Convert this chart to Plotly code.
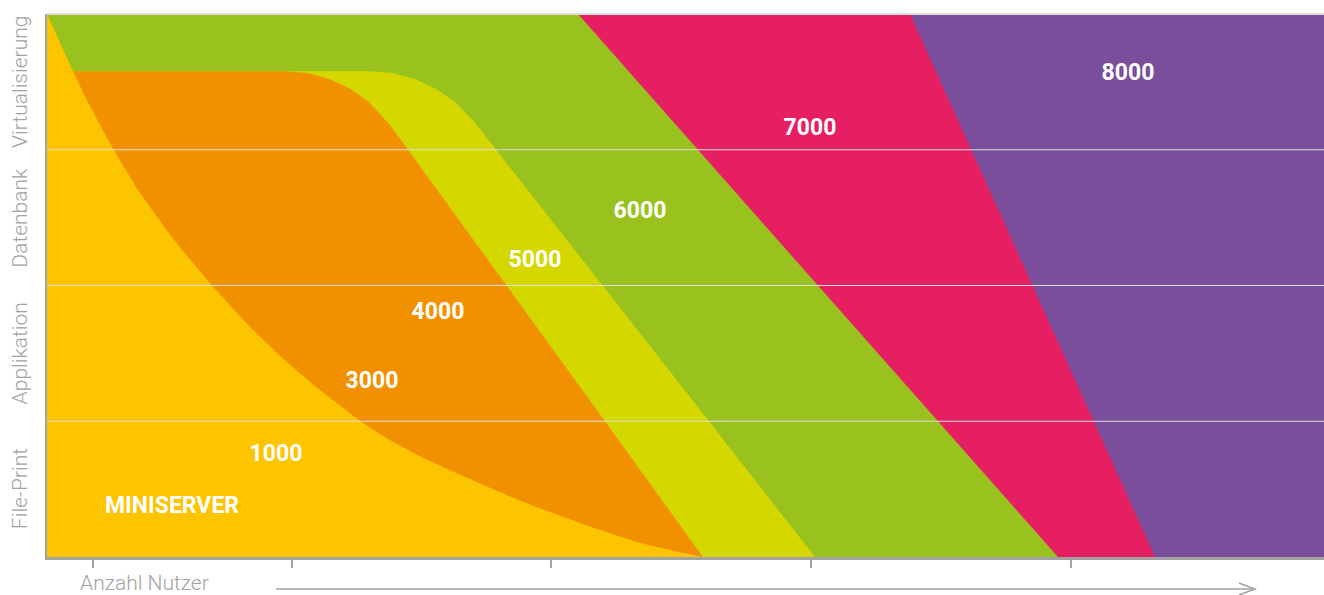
import plotly.graph_objects as go

# ---- data (x: arbitrary user scale, y: 4 workload bands) ----
band_labels = ["File-Print", "Applikation", "Datenbank", "Virtualisierung"]
band_centers = [0.5, 1.5, 2.5, 3.5]
grid_levels = [1, 2, 3]
tick_positions = [46, 245, 504, 764, 1024]

# upper boundary of each coloured zone (filled down to the x axis)
purple_x = [0, 1277]
purple_y = [4, 4]
pink_x = [0, 863, 1108]
pink_y = [4, 4, 0]
green_x = [0, 531, 1011]
green_y = [4, 4, 0]
yg_x = [0, 200, 323, 346, 368.3, 389.3, 408.2, 427.4, 448, 555.4, 662, 768]
yg_y = [3.579, 3.579, 3.579, 3.565, 3.520, 3.448, 3.351, 3.204, 3.011, 2.000, 1.000, 0]
orange_x = [0, 150, 238, 260.5, 282.3, 302.8, 321.3, 342.8, 360, 459.4, 558, 656]
orange_y = [3.579, 3.579, 3.579, 3.565, 3.522, 3.451, 3.356, 3.185, 3.011, 2.000, 1.000, 0]
yellow_x = [0, 26, 43, 66, 93, 126, 165, 203, 236, 270, 313, 336, 370, 420, 473, 533, 593, 655]
yellow_y = [4.0, 3.579, 3.323, 3.011, 2.683, 2.347, 2.000, 1.697, 1.463, 1.248, 1.004,
            0.892, 0.754, 0.583, 0.415, 0.251, 0.105, 0]

label_text = ["8000", "7000", "6000", "5000", "4000", "3000", "1000", "MINISERVER"]
label_x = [1081, 763, 593, 488, 391, 325, 229, 125]
label_y = [3.557, 3.151, 2.539, 2.177, 1.793, 1.284, 0.753, 0.369]

colors = {
    "purple": "#7B4E9C",
    "pink": "#E61E62",
    "green": "#9AC21E",
    "yg": "#D5D700",
    "orange": "#F29100",
    "yellow": "#FDC400",
}

GREY = "#a2a2a2"

fig = go.Figure()
for name, xs, ys, shape in [
    ("purple", purple_x, purple_y, "linear"),
    ("pink", pink_x, pink_y, "linear"),
    ("green", green_x, green_y, "linear"),
    ("yg", yg_x, yg_y, "linear"),
    ("orange", orange_x, orange_y, "linear"),
    ("yellow", yellow_x, yellow_y, "spline"),
]:
    fig.add_trace(go.Scatter(
        x=xs, y=ys, mode="lines", fill="tozeroy",
        fillcolor=colors[name],
        line=dict(width=0, color=colors[name], shape=shape, smoothing=0.6),
        hoverinfo="skip", showlegend=False,
    ))

fig.add_trace(go.Scatter(
    x=label_x, y=label_y, mode="text", text=label_text,
    textfont=dict(family="Roboto", size=23, color="white", weight="bold"),
    hoverinfo="skip", showlegend=False,
))

shapes = []
for g in grid_levels:
    shapes.append(dict(type="line", xref="paper", yref="y", x0=0, x1=1, y0=g, y1=g,
                       line=dict(color="#dddddd", width=1), layer="above"))
# top border
shapes.append(dict(type="line", xref="paper", yref="paper", x0=0, x1=1, y0=1, y1=1,
                   line=dict(color="#dddddd", width=2), layer="above"))
# arrow below axis
shapes.append(dict(type="line", xref="paper", yref="paper", x0=0.1793, x1=0.946,
                   y0=-0.059, y1=-0.059, line=dict(color=GREY, width=1.5)))
shapes.append(dict(type="path", xref="paper", yref="paper",
                   path="M 0.9334,-0.048 L 0.946,-0.059 L 0.9334,-0.070",
                   line=dict(color=GREY, width=1.5)))

annotations = []
for lab, yc in zip(band_labels, band_centers):
    annotations.append(dict(
        text=lab, xref="paper", yref="y", x=0, y=yc, xanchor="center", yanchor="middle",
        xshift=-27, textangle=-90, showarrow=False,
        font=dict(family="Roboto", size=21, color=GREY, weight=300),
    ))
annotations.append(dict(
    text="Anzahl Nutzer", xref="paper", yref="paper", x=0.076, y=0, xanchor="center",
    yanchor="middle", yshift=-26, showarrow=False,
    font=dict(family="Roboto", size=21, color=GREY, weight=300),
))

fig.update_layout(
    width=1324, height=595,
    margin=dict(l=47, r=0, t=14, b=38),
    paper_bgcolor="white", plot_bgcolor="white",
    shapes=shapes, annotations=annotations,
    xaxis=dict(range=[0, 1277], showgrid=False, zeroline=False,
               showline=True, linecolor=GREY, linewidth=3,
               tickmode="array", tickvals=tick_positions, showticklabels=False,
               ticks="outside", ticklen=8, tickwidth=2, tickcolor=GREY,
               fixedrange=True),
    yaxis=dict(range=[0, 4], showgrid=False, zeroline=False,
               showline=True, linecolor=GREY, linewidth=2,
               showticklabels=False, ticks="", fixedrange=True),
)

fig.write_html(
    "out.html",
    config={"displayModeBar": False},
    post_script="document.body.style.margin='0px';document.body.style.overflow='hidden';",
)
